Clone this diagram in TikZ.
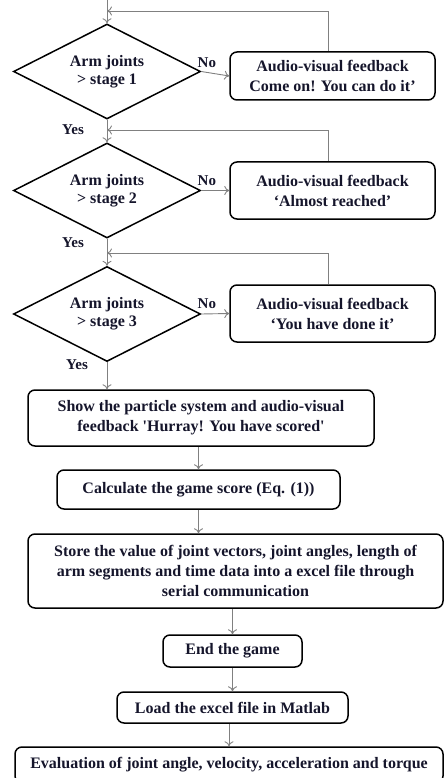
\documentclass[tikz,border=0pt]{standalone}
\usepackage{fontspec}
\setmainfont{Liberation Serif}
\usetikzlibrary{shapes.geometric,arrows.meta}
\definecolor{ink}{HTML}{15152B}
\definecolor{wire}{HTML}{808080}

\tikzstyle{decision}=[diamond,draw=black,line width=1.5pt,aspect=2,minimum width=187pt,minimum height=95pt,inner sep=0pt,align=center,text=ink,font=\bfseries\fontsize{16}{18}\selectfont]
\tikzstyle{block}=[rectangle,draw=black,rounded corners=7pt,line width=1.5pt,inner sep=2pt,align=center,text=ink,font=\bfseries\fontsize{16}{20}\selectfont]
\tikzstyle{feedback}=[block,minimum width=205pt]
\tikzstyle{arr}=[draw=wire,line width=0.9pt,-{To[length=5pt,width=9pt]}]
\tikzstyle{answer}=[text=ink,font=\bfseries\fontsize{15}{15}\selectfont]

\begin{document}
\begin{tikzpicture}[x=1pt,y=-1pt]
\useasboundingbox (0,0) rectangle (445,778);

% decisions
\foreach \y/\name/\stage in {71.5/d1/1, 190.5/d2/2, 314/d3/3}{
  \node[decision] (\name) at (107,\y) {Arm joints\\> stage \stage};
}

% feedback boxes
\node[feedback,minimum height=48pt] (fb1) at (332.5,76) {Audio-visual feedback\\Come on! You can do it'};
\node[feedback,minimum height=57pt] (fb2) at (332.5,190.5) {Audio-visual feedback\\‘Almost reached’};
\node[feedback,minimum height=57pt] (fb3) at (332.5,313.5) {Audio-visual feedback\\‘You have done it’};

% process boxes
\node[block,minimum width=346pt,minimum height=56pt] (show) at (201,418) {Show the particle system and audio-visual\\feedback \textquotesingle Hurray! You have scored\textquotesingle};
\node[block,minimum width=283pt,minimum height=39pt] (calc) at (198.5,489.5) {Calculate the game score (Eq. (1))};
\node[block,minimum width=415pt,minimum height=74pt] (store) at (235.5,571) {Store the value of joint vectors, joint angles, length of\\arm segments and time data into a excel file through\\serial communication};
\node[block,minimum width=139pt,minimum height=32pt] (end) at (232.5,651) {End the game};
\node[block,minimum width=231pt,minimum height=31pt] (load) at (232.5,707.5) {Load the excel file in Matlab};
\node[block,minimum width=428pt,minimum height=36pt] (eval) at (229,765) {Evaluation of joint angle, velocity, acceleration and torque};

% entry and loop-back points
\coordinate (start) at (107,0);
\coordinate (j1) at (107,11);
\coordinate (j2) at (107,130);
\coordinate (j3) at (107,253);

\path[arr] (start) -- (d1.north);

% no branches and loops back
\foreach \d/\f/\j in {d1/fb1/j1, d2/fb2/j2, d3/fb3/j3}{
  \path[arr] (\d.east) -- node[answer,above=1pt,pos=0.2] {No} (\f.west);
  \path[arr] ([xshift=-4.5pt]\f.north) |- (\j);
}

% yes branches
\path[arr] (d1.south) -- (d2.north);
\path[arr] (d2.south) -- (d3.north);
\path[arr] (d3.south) -- (d3.south |- show.north);
\node[answer] (y1) at (73,130) {Yes};
\node[answer] (y2) at (73,243) {Yes};
\node[answer] (y3) at (77,365) {Yes};

% main sequence
\path[arr] (calc.north |- show.south) -- (calc.north);
\path[arr] (calc.south) -- (calc.south |- store.north);
\foreach \source/\dest in {store/end, end/load, load/eval}{
  \path[arr] (\dest.north |- \source.south) -- (\dest.north);
}
\end{tikzpicture}
\end{document}
